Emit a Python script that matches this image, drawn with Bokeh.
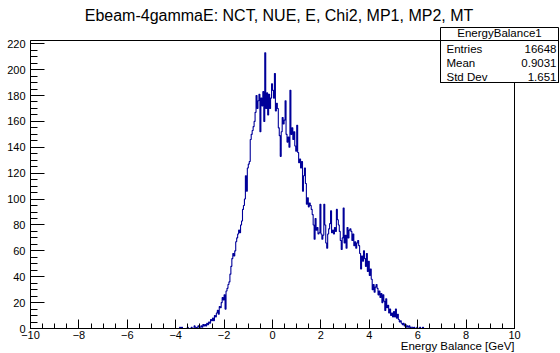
import numpy as np
from bokeh.plotting import figure
from bokeh.models import FixedTicker, BoxAnnotation, Label, Range1d
from bokeh.embed import file_html
from bokeh.resources import INLINE

# ---------------- data ----------------
title_text = "Ebeam-4gammaE: NCT, NUE, E, Chi2, MP1, MP2, MT"
x_title = "Energy Balance [GeV]"
stats_title = "EnergyBalance1"
stats_names = ["Entries", "Mean", "Std Dev"]
stats_values = ["16648", "0.9031", "1.651"]

hist_lo, hist_hi = -10.0, 10.0
bin_width = 0.04
filled_start = -4.0          # left edge of the first bin listed in `counts`
counts = [
    0, 0, 0, 0, 1, 0, 1, 0, 0, 0, 0, 0, 1, 0, 0, 0, 1, 0, 0, 2, 1, 0, 1, 2, 1,   # -4.0 .. -3.0
    1, 2, 1, 3, 2,          # -3.0
    3, 2, 4, 3, 5,          # -2.8
    4, 7, 6, 8, 6,          # -2.6
    10, 9, 12, 14, 11,      # -2.4
    17, 16, 20, 24, 22,     # -2.2
    26, 15, 29, 31, 34,     # -2.0
    36, 42, 48, 54, 58,     # -1.8
    56, 60, 67, 70, 73,     # -1.6
    76, 74, 80, 83, 92,     # -1.4
    95, 100, 118, 106, 124, # -1.2
    127, 129, 146, 150, 153,  # -1.0
    156, 160, 167, 180, 170,  # -0.8
    176, 181, 152, 178, 172,  # -0.6
    183, 160, 213, 170, 182,  # -0.4
    165, 181, 170, 178, 189,  # -0.2
    184, 178, 197, 168, 174,  # 0.0
    170, 155, 149, 133, 152,  # 0.2
    163, 158, 161, 176, 150,  # 0.4
    144, 148, 140, 184, 150,  # 0.6
    155, 146, 152, 141, 137,  # 0.8
    157, 136, 128, 131, 124,  # 1.0
    129, 106, 118, 124, 112,  # 1.2
    96, 101, 94, 97, 95,      # 1.4
    92, 88, 80, 69, 85,       # 1.6
    76, 78, 73, 74, 96,       # 1.8
    73, 69, 72, 96, 80,       # 2.0
    66, 62, 73, 77, 81,       # 2.2
    91, 74, 76, 73, 78,       # 2.4
    75, 92, 84, 80, 75,       # 2.6
    68, 61, 70, 93, 66,       # 2.8
    72, 62, 78, 70, 76,       # 3.0
    77, 75, 68, 73, 64,       # 3.2
    67, 62, 66, 68, 64,       # 3.4
    58, 46, 56, 52, 60,       # 3.6
    54, 48, 58, 44, 52,       # 3.8
    41, 46, 38, 30, 34,       # 4.0
    28, 32, 34, 31, 26,       # 4.2
    29, 24, 27, 20, 26,       # 4.4
    21, 14, 23, 16, 18,       # 4.6
    12, 15, 10, 12, 9,        # 4.8
    13, 9, 15, 8, 11,         # 5.0
    7, 5, 6, 4, 3,            # 5.2
    4, 2, 3, 1, 2,            # 5.4
    1, 2, 0, 1, 1,            # 5.6
    0, 1, 0, 0, 1,            # 5.8
    0, 0, 1, 0, 0,            # 6.0
    1, 0, 0, 0, 0,            # 6.2
]
x_ticks = [-10, -8, -6, -4, -2, 0, 2, 4, 6, 8, 10]
y_ticks = [0, 20, 40, 60, 80, 100, 120, 140, 160, 180, 200, 220]
y_top = 222.5

# ---------------- layout (page pixels; Bokeh's page has no body margin) ----------------
W, H = 560, 353
PAGE = 0
FR_L, FR_R, FR_T, FR_B = 30, 514, 40, 328      # histogram frame on the page
FONT = "Liberation Sans"
LINE_COLOR = "#000099"

kx = (FR_R - FR_L) / (hist_hi - hist_lo)       # px per unit
ky = (FR_B - FR_T) / y_top                     # px per count
x_start = hist_lo - (FR_L - PAGE) / kx
x_end = hist_hi + (PAGE + W - FR_R) / kx
y_start = -(PAGE + H - FR_B) / ky
y_end = y_top + (FR_T - PAGE) / ky


def xd(page_px):
    return hist_lo + (page_px - FR_L) / kx


def yd(page_py):
    return (FR_B - page_py) / ky


n_bins = int(round((hist_hi - hist_lo) / bin_width))
edges = hist_lo + bin_width * np.arange(n_bins + 1)
full = np.zeros(n_bins)
i0 = int(round((filled_start - hist_lo) / bin_width))
full[i0:i0 + len(counts)] = counts
xs = np.repeat(edges, 2)[1:-1]
ys = np.repeat(full, 2)

p = figure(width=W, height=H, x_range=Range1d(x_start, x_end), y_range=Range1d(y_start, y_end),
           output_backend="svg", toolbar_location=None, title=None,
           min_border=0, min_border_left=0, min_border_right=0, min_border_top=0,
           min_border_bottom=0, background_fill_color="white", border_fill_color="white")
p.xgrid.visible = False
p.ygrid.visible = False
p.outline_line_color = None

# frame rectangle
p.add_layout(BoxAnnotation(left=hist_lo, right=hist_hi, bottom=0, top=y_top,
                           fill_alpha=0.0, line_color="black", line_alpha=1.0, line_width=1))

p.line(xs, ys, line_color=LINE_COLOR, line_width=1.1)

x_minor = list(np.arange(-10, 10.01, 0.5))
y_minor = list(np.arange(0, y_top, 5))
p.xaxis.ticker = FixedTicker(ticks=x_ticks, minor_ticks=x_minor)
p.yaxis.ticker = FixedTicker(ticks=y_ticks, minor_ticks=y_minor)
p.xaxis.major_label_overrides = {t: ("\u2212" + str(-t) if t < 0 else str(t)) for t in x_ticks}
p.xaxis.fixed_location = 0
p.yaxis.fixed_location = hist_lo
p.xaxis.bounds = (hist_lo, hist_hi)
p.yaxis.bounds = (0, y_top)
for ax, tin, tmin in ((p.xaxis, 9, 5), (p.yaxis, 14, 7)):
    ax.axis_line_color = "black"
    ax.major_tick_line_color = "black"
    ax.minor_tick_line_color = "black"
    ax.major_tick_in = tin
    ax.major_tick_out = 0
    ax.minor_tick_in = tmin
    ax.minor_tick_out = 0
    ax.major_label_text_font = FONT
    ax.major_label_text_font_size = "11px"
    ax.major_label_text_color = "black"
p.xaxis.major_label_standoff = 2
p.yaxis.major_label_standoff = 5

# title and axis title
p.add_layout(Label(x=xd(278.5), y=yd(15), text=title_text, text_align="center",
                   text_baseline="middle", text_font=FONT, text_font_size="16px",
                   text_color="black"))
p.add_layout(Label(x=xd(514), y=yd(345), text=x_title, text_align="right",
                   text_baseline="middle", text_font=FONT, text_font_size="11.5px",
                   text_color="black"))

# stats box
box_l, box_r, box_t, box_sep, box_b = 440, 558, 27, 40, 82
p.add_layout(BoxAnnotation(left=xd(box_l), right=xd(box_r), top=yd(box_t), bottom=yd(box_b),
                           fill_color="white", fill_alpha=1.0, line_color="black",
                           line_alpha=1.0, line_width=1))
p.add_layout(BoxAnnotation(left=xd(box_l), right=xd(box_r), top=yd(box_sep), bottom=yd(box_b),
                           fill_alpha=0.0, line_color="black", line_alpha=1.0, line_width=1))
p.add_layout(Label(x=xd((box_l + box_r) / 2), y=yd(32.5), text=stats_title, text_align="center",
                   text_baseline="middle", text_font=FONT, text_font_size="11.5px",
                   text_color="black"))
for name, val, py in zip(stats_names, stats_values, (48, 62, 76)):
    p.add_layout(Label(x=xd(446), y=yd(py), text=name, text_align="left",
                       text_baseline="middle", text_font=FONT, text_font_size="11.5px",
                       text_color="black"))
    p.add_layout(Label(x=xd(556), y=yd(py), text=val, text_align="right",
                       text_baseline="middle", text_font=FONT, text_font_size="11.5px",
                       text_color="black"))

open("out.html", "w").write(file_html(p, INLINE))
